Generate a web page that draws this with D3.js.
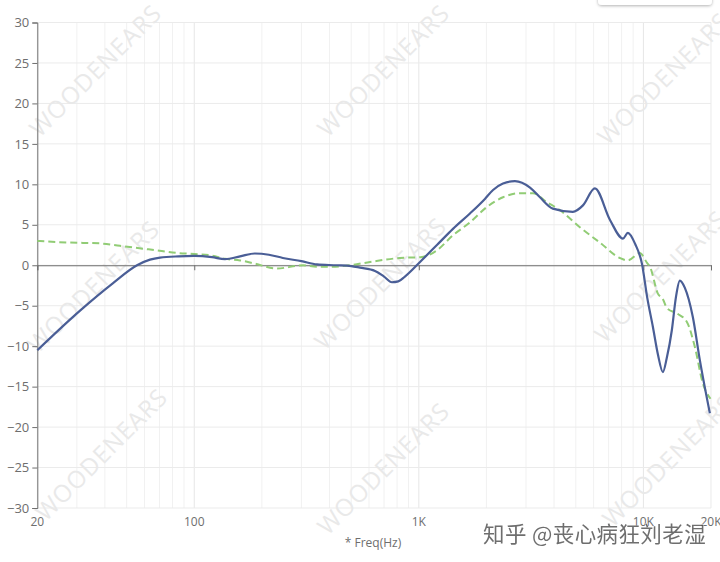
<!DOCTYPE html>
<html><head><meta charset="utf-8">
<script src="https://cdn.jsdelivr.net/npm/d3@7"></script>
<style>body{margin:0;background:#fff}svg{display:block}</style>
</head><body>
<svg id="c" width="720" height="562"></svg>
<script>
const yTicks = [30,25,20,15,10,5,0,-5,-10,-15,-20,-25,-30];
const xTickVals = [20,100,1000,10000,20000];
const xTickLabels = ["20","100","1K","10K","20K"];
const xAxisTitle = "* Freq(Hz)";
const watermarkText = "WOODENEARS";
const creditText = "知乎 @丧心病狂刘老湿";

const blueFreq = [20,31,43.5,55.6,63.5,70.4,85,100,120,137,160,186,215,248,300,352,432,500,547,638,700,759,810,867,1020,1204,1419,1689,1969,2140,2370,2680,3127,3461,3951,4852,5380,6081,7100,8110,8530,9200,9850,10400,11020,11600,12216,12700,13390,13950,14528,15300,16600,17830,19770];
const blueDb   = [-10.5,-5.6,-2.2,0.0,0.7,0.95,1.1,1.15,1.0,0.75,1.1,1.45,1.3,0.9,0.5,0.1,0.0,-0.1,-0.3,-0.7,-1.4,-2.1,-2.0,-1.4,0.5,2.5,4.5,6.4,8.2,9.3,10.1,10.4,9.6,8.4,7.0,6.6,7.4,9.5,5.6,3.3,4.0,2.6,0.2,-4.0,-7.6,-11.0,-13.2,-11.5,-8.0,-4.0,-1.9,-2.8,-6.4,-11.7,-18.3];

const greenFreq = [20,28,38,46.7,57,70,85,100,120,137,160,186,233,305,352,402,493,606,824,1020,1204,1419,1689,2009,2370,2819,3221,3717,4250,5210,6400,7850,8530,9640,10380,10700,11600,12216,12740,14200,15620,16950,18400,19900];
const greenDb   = [3.0,2.8,2.7,2.4,2.1,1.8,1.5,1.4,1.2,0.8,0.6,0.2,-0.4,0.0,-0.2,-0.2,0.0,0.4,0.9,1.0,1.85,3.7,5.3,7.2,8.4,8.9,8.9,7.8,6.8,4.7,2.8,0.9,0.6,1.5,0.3,-0.2,-3.5,-4.2,-5.3,-6.0,-7.0,-10.1,-14.6,-16.5];

const svg = d3.select("#c");
const L = 37.3, R = 711, T = 22.5, B = 508;
const x = d3.scaleLog().domain([20,20000]).range([L,R]);
const y = d3.scaleLinear().domain([-30,30]).range([B,T]);

// grid
const grid = svg.append("g");
const minor = [];
for (let d of [10,100,1000,10000]) for (let k=1;k<=9;k++){const f=d*k; if(f>=20&&f<=20000) minor.push(f);}
minor.push(20000);
grid.selectAll("line.v").data(minor).join("line")
  .attr("x1",d=>x(d)).attr("x2",d=>x(d)).attr("y1",T).attr("y2",B)
  .attr("stroke",d=>[100,1000,10000].includes(d)?"#e6e6e6":"#f1f1f1").attr("stroke-width",1);
grid.selectAll("line.h").data(yTicks).join("line")
  .attr("x1",L).attr("x2",R).attr("y1",d=>y(d)).attr("y2",d=>y(d))
  .attr("stroke","#ebebeb").attr("stroke-width",1);

// watermark
const wmPos = [[97,72],[385,72],[665,80],[95,288],[382,285],[662,278],[103,456],[385,470],[670,462]];
svg.append("g").selectAll("text").data(wmPos).join("text")
  .attr("transform",d=>`translate(${d[0]},${d[1]}) rotate(-45)`)
  .attr("text-anchor","middle").attr("dominant-baseline","middle")
  .attr("font-family","Open Sans, sans-serif").attr("font-size",24)
  .attr("letter-spacing",1)
  .attr("fill","#e9e9e9").text(watermarkText);

// y axis
const yAxis = d3.axisLeft(y).tickValues(yTicks).tickSize(5).tickPadding(3);
const ga = svg.append("g").attr("transform",`translate(${L},0)`).call(yAxis);
ga.select(".domain").attr("stroke","#6e6e6e");
ga.selectAll(".tick line").attr("stroke","#6e6e6e");
ga.selectAll(".tick text").attr("fill","#6e6e6e").attr("font-size",13).attr("font-family","Open Sans, sans-serif");

// zero line with ticks
const gx = svg.append("g").attr("transform",`translate(0,${y(0)})`)
  .call(d3.axisBottom(x).tickValues(xTickVals).tickSize(5).tickFormat(""));
gx.select(".domain").attr("stroke","#6e6e6e");
gx.selectAll(".tick line").attr("stroke","#6e6e6e");

// x labels at bottom
svg.append("g").selectAll("text").data(xTickVals).join("text")
  .attr("x",d=>x(d)).attr("y",526).attr("text-anchor","middle")
  .attr("font-family","Open Sans, sans-serif").attr("font-size",12).attr("fill","#6e6e6e")
  .text((d,i)=>xTickLabels[i]);
svg.append("text").attr("x",373).attr("y",547).attr("text-anchor","middle")
  .attr("font-family","Open Sans, sans-serif").attr("font-size",12).attr("fill","#6e6e6e").text(xAxisTitle);

// lines
const line = d3.line().x(d=>x(d[0])).y(d=>y(d[1])).curve(d3.curveMonotoneX);
svg.append("path").datum(greenFreq.map((f,i)=>[f,greenDb[i]]))
  .attr("d",line).attr("fill","none").attr("stroke","#91cc75").attr("stroke-width",2)
  .attr("stroke-dasharray","7,4");
svg.append("path").datum(blueFreq.map((f,i)=>[f,blueDb[i]]))
  .attr("d",line).attr("fill","none").attr("stroke","#4a5e96").attr("stroke-width",2.2);

// top-right box
const defs = svg.append("defs");
const flt = defs.append("filter").attr("id","sh").attr("x","-20%").attr("y","-50%").attr("width","140%").attr("height","300%");
flt.append("feDropShadow").attr("dx",0).attr("dy",1).attr("stdDeviation",1.5).attr("flood-color","#000").attr("flood-opacity",0.3);
svg.append("rect").attr("x",598).attr("y",-8).attr("width",114).attr("height",13).attr("rx",4)
  .attr("fill","#fff").attr("filter","url(#sh)");

// credit watermark
svg.append("text").attr("x",483).attr("y",542)
  .attr("font-family","Noto Sans CJK SC, sans-serif").attr("font-size",21.5)
  .attr("letter-spacing",0.4)
  .attr("fill","#555").attr("stroke","#fff").attr("stroke-width",0.6).attr("paint-order","stroke")
  .attr("opacity",0.85).text(creditText);
</script>
</body></html>
